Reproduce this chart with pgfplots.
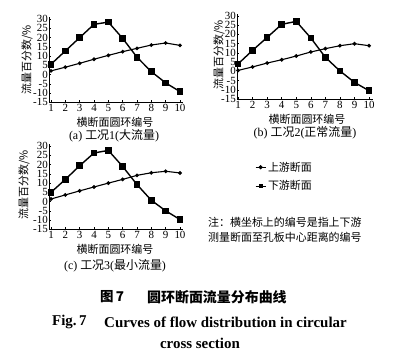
\documentclass[border=0pt]{standalone}
\usepackage{pgfplots}
\pgfplotsset{compat=1.18}
\usepackage{fontspec}
\setmainfont{Liberation Serif}
\newfontfamily\cjk{Noto Sans CJK SC}
\newcommand\zh[1]{{\cjk #1}}
\begin{document}
\begin{tikzpicture}[x=1bp,y=1bp]
\path (0,0) rectangle (399,354);
\pgfplotsset{
  flowax/.style={
    scale only axis,
    axis x line*=bottom, axis y line*=left,
    axis line style={-, line width=0.7bp},
    ymin=-15, ymax=31,
    xtick={1,...,10}, ytick={-15,-10,...,30},
    tick align=inside, major tick length=2bp,
    tick style={line width=0.5bp, black},
    /pgf/number format/assume math mode=true,
    ticklabel style={font=\fontsize{11}{11}\selectfont, text height=7bp, text depth=0pt},
    yticklabel style={inner sep=1bp},
    xticklabel style={inner sep=2bp},
  },
  up/.style={black, line width=1.1bp, mark=*, mark size=1.3bp},
  down/.style={black, line width=1.4bp, mark=square*, mark size=2.6bp},
}
% (a)
\begin{axis}[flowax, at={(49bp,251.7bp)}, anchor=south west, width=134bp, height=85bp, xmin=0.86, xmax=10.21]
\addplot[up] coordinates {(1,2) (2,4) (3,6.1) (4,8.3) (5,10.4) (6,12.4) (7,14.2) (8,16) (9,17.1) (10,15.8)};
\addplot[down] coordinates {(1,5.6) (2,12.8) (3,20) (4,27.2) (5,28.4) (6,19.6) (7,9.4) (8,1.6) (9,-4.5) (10,-9.2)};
\end{axis}
% (b)
\begin{axis}[flowax, at={(237bp,255bp)}, anchor=south west, width=136bp, height=84.8bp, xmin=0.93, xmax=10.27]
\addplot[up] coordinates {(1,0.5) (2,2.4) (3,4.5) (4,6.3) (5,8.3) (6,10.5) (7,12.3) (8,13.9) (9,15) (10,13.9)};
\addplot[down] coordinates {(1,4) (2,11.4) (3,18.4) (4,25.5) (5,27.1) (6,18.1) (7,7.6) (8,0.2) (9,-6) (10,-10.5)};
\end{axis}
% (c)
\begin{axis}[flowax, at={(49bp,124.7bp)}, anchor=south west, width=134bp, height=85bp, xmin=0.86, xmax=10.21,
  legend style={at={(axis description cs:1.537,0.62)}, anchor=west, draw=none, fill=none, inner sep=0pt,
    font=\cjk\fontsize{11}{11}\selectfont, row sep=4bp, legend cell align=left},
  legend image code/.code={\draw[#1, line width=0.9bp, mark size=1.6bp, mark repeat=2, mark phase=2] plot coordinates {(0bp,0bp) (5bp,0bp) (10bp,0bp)};}]
\addplot[up] coordinates {(1,1.4) (2,3.6) (3,5.8) (4,7.9) (5,10) (6,12) (7,14.2) (8,15.6) (9,16.4) (10,15.5)};
\addlegendentry{上游断面}
\addplot[down] coordinates {(1,5) (2,12) (3,19.4) (4,26.3) (5,27.7) (6,19) (7,9.2) (8,0.7) (9,-5) (10,-9.7)};
\addlegendentry{下游断面}
\end{axis}
% axis labels
\begin{scope}[every node/.style={font=\cjk\fontsize{11}{11}\selectfont, inner sep=0pt}]
\node[rotate=90] at (27,294) {流量百分数/\%};
\node at (115,232) {横断面圆环编号};
\node at (114,218) {\rmfamily\fontsize{12}{12}\selectfont (a) \zh{工况}1(\zh{大流量})};
\node[rotate=90] at (219,299) {流量百分数/\%};
\node at (307,235) {横断面圆环编号};
\node at (305,221) {\rmfamily\fontsize{12}{12}\selectfont (b) \zh{工况}2(\zh{正常流量})};
\node[rotate=90] at (24,169) {流量百分数/\%};
\node at (115,105) {横断面圆环编号};
\node at (115,88) {\rmfamily\fontsize{12}{12}\selectfont (c) \zh{工况}3(\zh{最小流量})};
\node[anchor=west] at (208,132) {注：横坐标上的编号是指上下游};
\node[anchor=west] at (208,117) {测量断面至孔板中心距离的编号};
\end{scope}
% caption
\node[inner sep=0pt, anchor=west, font=\cjk\bfseries\fontsize{13.5}{13.5}\selectfont] at (100,57) {图\,7};
\node[inner sep=0pt, anchor=west, font=\cjk\bfseries\fontsize{14}{14}\selectfont] at (147,57) {圆环断面流量分布曲线};
\node[inner sep=0pt, anchor=west, font=\bfseries\fontsize{15}{15}\selectfont] at (52,32) {Fig.\,7};
\node[inner sep=0pt, anchor=east, font=\bfseries\fontsize{15}{15}\selectfont] at (347,32) {Curves of flow distribution in circular};
\node[inner sep=0pt, font=\bfseries\fontsize{15}{15}\selectfont] at (200,11) {cross section};
\end{tikzpicture}
\end{document}
